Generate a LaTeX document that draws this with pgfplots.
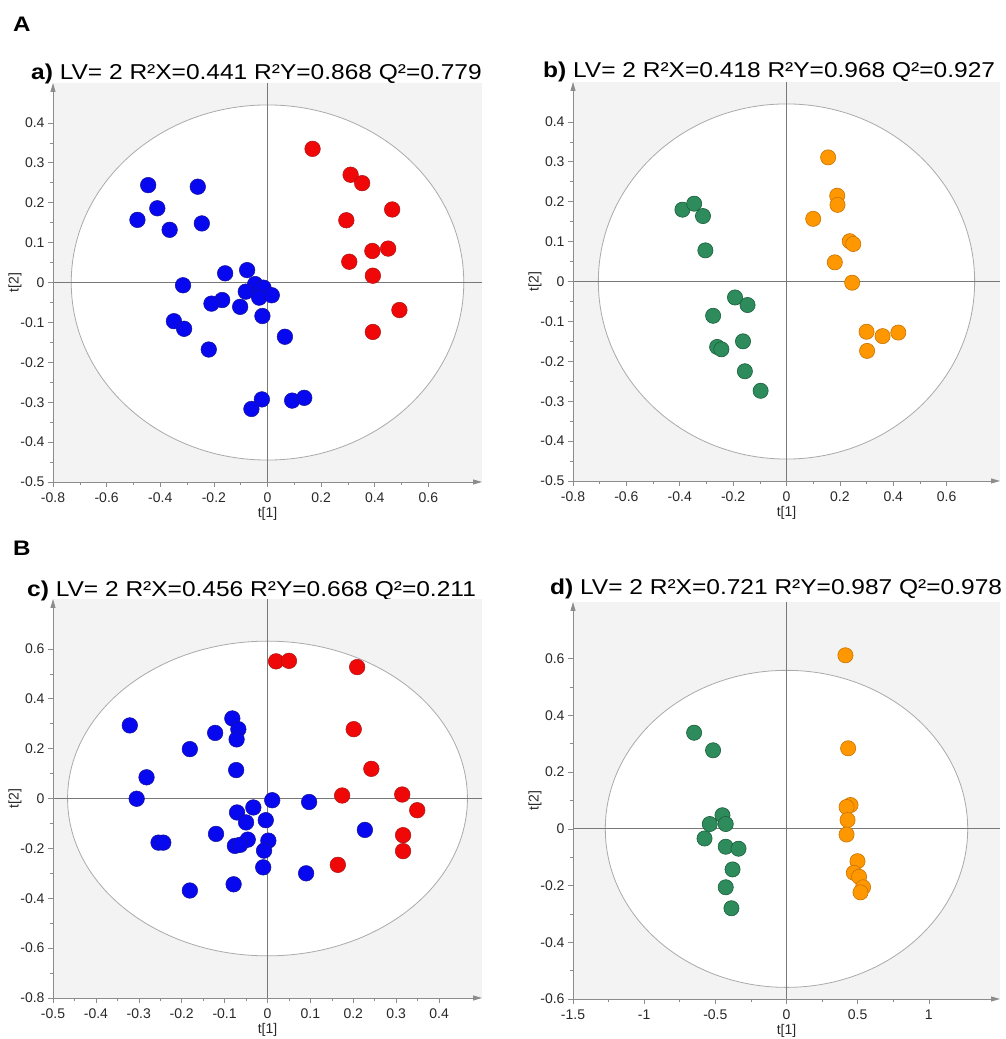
\documentclass[border=0pt]{standalone}
\usepackage{pgfplots}
\pgfplotsset{compat=1.18}
\usepackage{fontspec}
\setmainfont{Liberation Sans}
\usepackage{graphicx}
\usetikzlibrary{arrows.meta}
\definecolor{bgcol}{RGB}{243,243,243}
\definecolor{axcol}{RGB}{140,140,140}
\definecolor{crosscol}{RGB}{120,120,120}
\definecolor{ellcol}{RGB}{170,170,170}
\definecolor{tickcol}{RGB}{40,40,40}
\definecolor{bluec}{RGB}{8,8,240}
\definecolor{blueedge}{RGB}{20,20,150}
\definecolor{redc}{RGB}{240,8,8}
\definecolor{rededge}{RGB}{170,20,20}
\definecolor{orangec}{RGB}{255,152,0}
\definecolor{orangeedge}{RGB}{200,115,0}
\definecolor{greenc}{RGB}{46,140,92}
\definecolor{greenedge}{RGB}{25,95,60}
\newcommand{\ttl}[2]{\scalebox{1.14}[1]{\fontsize{21.5}{24}\selectfont\textbf{#1)} #2}}
\pgfplotsset{
  pca/.style={
    scale only axis,
    axis lines*=left,
    axis background/.style={fill=bgcol},
    axis on top,
    axis line style={draw=axcol, line width=0.8pt, -{Triangle[length=9pt,width=5pt]}},
    tick align=outside,
    major tick length=5pt, minor tick length=3pt,
    every tick/.style={draw=axcol, line width=0.6pt},
    minor tick num=1,
    tick label style={font=\fontsize{14}{16}\selectfont, text=tickcol},
    xticklabel shift=2pt,
    /pgf/number format/assume math mode=true,
    xlabel={t[1]}, ylabel={t[2]},
    ylabel shift=-8pt,
    xlabel shift=-2pt,
    label style={font=\fontsize{14}{16}\selectfont, text=tickcol},
  },
  pblue/.style={only marks, mark=*, mark size=7.8pt, mark options={fill=bluec, draw=blueedge, line width=0.5pt}},
  pred/.style={only marks, mark=*, mark size=7.8pt, mark options={fill=redc, draw=rededge, line width=0.5pt}},
  porange/.style={only marks, mark=*, mark size=7.6pt, mark options={fill=orangec, draw=orangeedge, line width=0.6pt}},
  pgreen/.style={only marks, mark=*, mark size=7.6pt, mark options={fill=greenc, draw=greenedge, line width=0.6pt}},
}
\begin{document}
\begin{tikzpicture}
\useasboundingbox (0pt,0pt) rectangle (1006pt,1039pt);
\node[anchor=base west, inner sep=0pt] at (13pt,1007pt) {\scalebox{1.15}[1]{\fontsize{21}{24}\selectfont\bfseries A}};
\node[anchor=base west, inner sep=0pt] at (13pt,483pt) {\scalebox{1.15}[1]{\fontsize{21}{24}\selectfont\bfseries B}};
\node[anchor=base west, inner sep=0pt] at (31pt,959pt) {\ttl{a}{LV= 2 R²X=0.441 R²Y=0.868 Q²=0.779}};
\node[anchor=base west, inner sep=0pt] at (543pt,961pt) {\ttl{b}{LV= 2 R²X=0.418 R²Y=0.968 Q²=0.927}};
\node[anchor=base west, inner sep=0pt] at (27pt,442pt) {\ttl{c}{LV= 2 R²X=0.456 R²Y=0.668 Q²=0.211}};
\node[anchor=base west, inner sep=0pt] at (550pt,444pt) {\ttl{d}{LV= 2 R²X=0.721 R²Y=0.987 Q²=0.978}};

% ---------------- a ----------------
\begin{axis}[pca, at={(53pt,557pt)}, anchor=south west, width=429pt, height=399pt,
  xmin=-0.8, xmax=0.8, ymin=-0.5, ymax=0.5,
  xtick={-0.8,-0.6,-0.4,-0.2,0,0.2,0.4,0.6}, ytick={-0.5,-0.4,-0.3,-0.2,-0.1,0,0.1,0.2,0.3,0.4}]
\draw[fill=white, draw=ellcol, line width=0.8pt] (axis cs:0,0) ellipse [x radius=0.732, y radius=0.445];
\draw[crosscol, line width=0.8pt] (axis cs:0,-0.5) -- (axis cs:0,0.5);
\draw[crosscol, line width=0.8pt] (axis cs:-0.8,0) -- (axis cs:0.8,0);
\addplot[pblue] coordinates {
(-0.445,0.244) (-0.260,0.240) (-0.411,0.186) (-0.485,0.157) (-0.245,0.148) (-0.365,0.132)
(-0.315,-0.007) (-0.158,0.023) (-0.076,0.031) (-0.046,-0.004) (-0.015,-0.013) (-0.081,-0.023)
(-0.031,-0.038) (0.016,-0.032) (-0.169,-0.044) (-0.209,-0.053) (-0.102,-0.061) (-0.019,-0.084)
(-0.349,-0.097) (-0.311,-0.116) (0.065,-0.136) (-0.219,-0.168) (-0.021,-0.293) (-0.060,-0.317)
(0.092,-0.296) (0.137,-0.289)};
\addplot[pred] coordinates {
(0.168,0.335) (0.310,0.270) (0.353,0.249) (0.465,0.183) (0.294,0.156) (0.391,0.079)
(0.450,0.085) (0.305,0.052) (0.393,0.017) (0.492,-0.069) (0.393,-0.124)};
\end{axis}

% ---------------- b ----------------
\begin{axis}[pca, at={(573pt,558pt)}, anchor=south west, width=427pt, height=399pt,
  xmin=-0.8, xmax=0.8, ymin=-0.5, ymax=0.5,
  xtick={-0.8,-0.6,-0.4,-0.2,0,0.2,0.4,0.6}, ytick={-0.5,-0.4,-0.3,-0.2,-0.1,0,0.1,0.2,0.3,0.4}]
\draw[fill=white, draw=ellcol, line width=0.8pt] (axis cs:0,0) ellipse [x radius=0.705, y radius=0.445];
\draw[crosscol, line width=0.8pt] (axis cs:0,-0.5) -- (axis cs:0,0.5);
\draw[crosscol, line width=0.8pt] (axis cs:-0.8,0) -- (axis cs:0.8,0);
\addplot[pgreen] coordinates {
(-0.390,0.180) (-0.346,0.195) (-0.313,0.164) (-0.304,0.078) (-0.193,-0.040) (-0.146,-0.059)
(-0.275,-0.086) (-0.163,-0.150) (-0.260,-0.164) (-0.244,-0.170) (-0.156,-0.225) (-0.097,-0.274)};
\addplot[porange] coordinates {
(0.156,0.311) (0.190,0.215) (0.191,0.192) (0.100,0.157) (0.237,0.101) (0.250,0.094)
(0.181,0.048) (0.246,-0.003) (0.300,-0.126) (0.360,-0.137) (0.419,-0.128) (0.302,-0.174)};
\end{axis}

% ---------------- c ----------------
\begin{axis}[pca, at={(53pt,41pt)}, anchor=south west, width=429pt, height=399pt,
  xmin=-0.5, xmax=0.5, ymin=-0.8, ymax=0.8,
  xtick={-0.5,-0.4,-0.3,-0.2,-0.1,0,0.1,0.2,0.3,0.4}, ytick={-0.8,-0.6,-0.4,-0.2,0,0.2,0.4,0.6}]
\draw[fill=white, draw=ellcol, line width=0.8pt] (axis cs:0,0) ellipse [x radius=0.466, y radius=0.631];
\draw[crosscol, line width=0.8pt] (axis cs:0,-0.8) -- (axis cs:0,0.8);
\draw[crosscol, line width=0.8pt] (axis cs:-0.5,0) -- (axis cs:0.5,0);
\addplot[pblue] coordinates {
(-0.321,0.293) (-0.082,0.321) (-0.068,0.278) (-0.122,0.263) (-0.072,0.237) (-0.181,0.198)
(-0.073,0.114) (-0.282,0.085) (-0.305,-0.001) (0.011,-0.007) (0.097,-0.014) (-0.033,-0.036)
(-0.071,-0.056) (-0.050,-0.096) (-0.004,-0.087) (-0.120,-0.142) (0.227,-0.126) (-0.254,-0.177)
(-0.243,-0.177) (-0.046,-0.165) (0.002,-0.169) (-0.076,-0.190) (-0.064,-0.186) (-0.008,-0.209)
(-0.010,-0.276) (0.090,-0.300) (-0.181,-0.369) (-0.079,-0.344)};
\addplot[pred] coordinates {
(0.020,0.550) (0.050,0.552) (0.209,0.527) (0.201,0.278) (0.242,0.119) (0.174,0.012)
(0.314,0.016) (0.349,-0.047) (0.316,-0.147) (0.316,-0.211) (0.164,-0.266)};
\end{axis}

% ---------------- d ----------------
\begin{axis}[pca, at={(573pt,40pt)}, anchor=south west, width=427pt, height=397pt,
  xmin=-1.5, xmax=1.5, ymin=-0.6, ymax=0.8,
  xtick={-1.5,-1,-0.5,0,0.5,1}, ytick={-0.6,-0.4,-0.2,0,0.2,0.4,0.6}]
\draw[fill=white, draw=ellcol, line width=0.8pt] (axis cs:0,0) ellipse [x radius=1.273, y radius=0.559];
\draw[crosscol, line width=0.8pt] (axis cs:0,-0.6) -- (axis cs:0,0.8);
\draw[crosscol, line width=0.8pt] (axis cs:-1.5,0) -- (axis cs:1.5,0);
\addplot[pgreen] coordinates {
(-0.649,0.339) (-0.516,0.277) (-0.450,0.048) (-0.539,0.017) (-0.427,0.017) (-0.576,-0.034)
(-0.427,-0.063) (-0.337,-0.070) (-0.379,-0.143) (-0.427,-0.206) (-0.387,-0.280)};
\addplot[porange] coordinates {
(0.414,0.612) (0.433,0.284) (0.450,0.084) (0.422,0.077) (0.429,0.031) (0.422,-0.020)
(0.499,-0.114) (0.473,-0.155) (0.510,-0.169) (0.538,-0.206) (0.520,-0.224)};
\end{axis}
\end{tikzpicture}
\end{document}
